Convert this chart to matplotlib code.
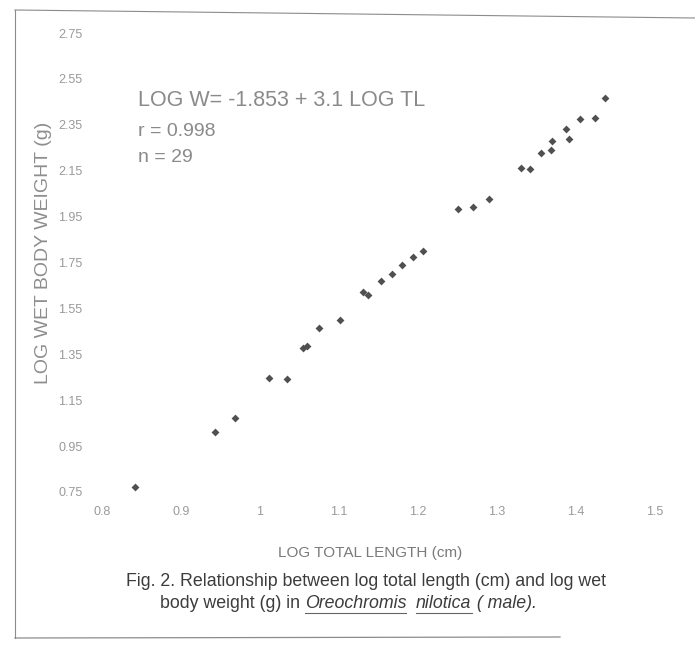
import matplotlib
matplotlib.use("Agg")
import matplotlib.pyplot as plt
from matplotlib.lines import Line2D

plt.rcParams['font.family'] = ['Liberation Sans', 'DejaVu Sans']

# data
log_tl = [0.842, 0.943, 0.968, 1.011, 1.034,
          1.054, 1.059, 1.075, 1.101, 1.130, 1.137, 1.153, 1.167, 1.180, 1.194, 1.206,
          1.251, 1.270, 1.290, 1.330, 1.342, 1.356, 1.368, 1.370, 1.387, 1.391,
          1.405, 1.424, 1.437]
log_w = [0.772, 1.011, 1.072, 1.247, 1.242,
         1.377, 1.386, 1.465, 1.500, 1.621, 1.608, 1.670, 1.700, 1.740, 1.775, 1.800,
         1.983, 1.992, 2.027, 2.162, 2.157, 2.227, 2.240, 2.279, 2.332, 2.288,
         2.375, 2.380, 2.467]

xticks = [0.8, 0.9, 1.0, 1.1, 1.2, 1.3, 1.4, 1.5]
xtick_labels = ['0.8', '0.9', '1', '1.1', '1.2', '1.3', '1.4', '1.5']
yticks = [0.75, 0.95, 1.15, 1.35, 1.55, 1.75, 1.95, 2.15, 2.35, 2.55, 2.75]

W, H = 695, 645
fig = plt.figure(figsize=(W / 100, H / 100), dpi=100)
ax = fig.add_axes([102 / W, 1 - 492 / H, 553 / W, 459 / H])

ax.scatter(log_tl, log_w, marker='D', s=16, color='#505050', linewidths=0)

ax.set_xlim(0.8, 1.5)
ax.set_ylim(0.75, 2.75)
ax.set_xticks(xticks)
ax.set_xticklabels(xtick_labels)
ax.set_yticks(yticks)
ax.set_yticklabels(['%.2f' % v for v in yticks])
ax.tick_params(length=0, labelsize=9, colors='#9a9a9a', pad=14)
ax.tick_params(axis='x', pad=10)
for s in ax.spines.values():
    s.set_visible(False)

ax.set_xlabel('LOG TOTAL LENGTH (cm)', fontsize=11, color='#7a7a7a', labelpad=13)
ax.xaxis.set_label_coords(0.485, -0.118)
ax.set_ylabel('LOG WET BODY WEIGHT (g)', fontsize=14, color='#8e8e8e')
ax.yaxis.set_label_coords(-0.09, 0.52)

# regression text
tc = '#8a8a8a'
fig.text(138 / W, 1 - 101 / H, 'LOG W= -1.853 + 3.1 LOG TL', fontsize=15.5, color=tc, va='center')
fig.text(138 / W, 1 - 131 / H, 'r = 0.998', fontsize=14, color=tc, va='center')
fig.text(138 / W, 1 - 158 / H, 'n = 29', fontsize=14, color=tc, va='center')

# caption
cc = '#3c3c3c'
fig.text(366 / W, 1 - 582 / H, 'Fig. 2. Relationship between log total length (cm) and log wet',
         fontsize=12.8, color=cc, ha='center', va='center')

parts = [('body weight (g) in ', 'normal', False),
         ('Oreochromis', 'italic', True),
         ('  ', 'normal', False),
         ('nilotica', 'italic', True),
         (' ( male).', 'italic', False)]
fig.canvas.draw()
renderer = fig.canvas.get_renderer()
x = 160
y = 603
for txt, style, ul in parts:
    t = fig.text(x / W, 1 - y / H, txt, fontsize=12.8, color=cc, style=style,
                 ha='left', va='center')
    bb = t.get_window_extent(renderer)
    if ul:
        fig.add_artist(Line2D([bb.x0 / W, bb.x1 / W], [(bb.y0 - 1) / H, (bb.y0 - 1) / H],
                              color='#666666', lw=0.8, transform=fig.transFigure))
    x += bb.width

# faint border of the scanned page
fc = '#8c8c8c'
fig.add_artist(Line2D([15 / W, 15 / W], [1 - 10 / H, 1 - 638 / H], color=fc, lw=0.8))
fig.add_artist(Line2D([15 / W, 1.0], [1 - 10 / H, 1 - 18 / H], color=fc, lw=0.8))
fig.add_artist(Line2D([15 / W, 560 / W], [1 - 638 / H, 1 - 637 / H], color=fc, lw=0.9))

fig.savefig('out.png', dpi=100)
